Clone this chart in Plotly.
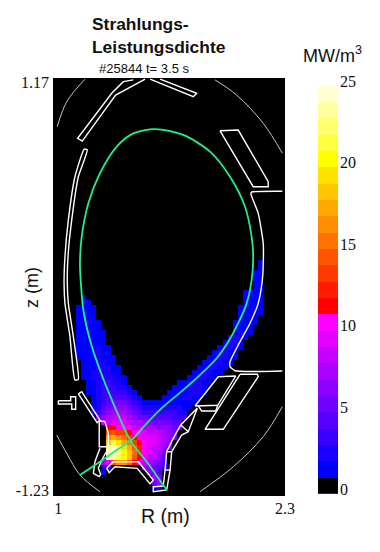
import plotly.graph_objects as go

# Farbskala: ein Band pro MW/m3, von 0 bis 24
band_levels = list(range(25))
band_colors = [
    "#000000", "#0000ff", "#1c00ff", "#3900ff", "#5500ff", "#7100ff", "#8e00ff", "#aa00ff", "#c600ff",
    "#e300ff", "#ff00ff", "#ff0000", "#ff1c00", "#ff3900", "#ff5500", "#ff7100", "#ff8e00", "#ffaa00",
    "#ffc600", "#ffe300", "#ffff00", "#ffff40", "#ffff70", "#ffffa0", "#ffffd0",
]
bar_ticks = [0, 5, 10, 15, 20, 25]

# Gitter der Rekonstruktion (Zellmitten in m)
r_first, r_step, n_cols = 1.1429, 0.0283, 37
z_first, z_step = 0.1107, -0.0287

# Zeilen von oben nach unten: (erste Spalte, Werte) je Abschnitt
emission_rows = [
    [(36, [1])],
    [(36, [1])],
    [(35, [1, 1])],
    [(35, [1, 1])],
    [(35, [1, 1])],
    [(35, [1, 1])],
    [(33, [1, 1, 1, 1])],
    [(1, [1]), (33, [1, 1, 1, 1])],
    [(1, [1, 1]), (33, [1, 1, 1, 1])],
    [(0, [1, 1, 1, 1]), (32, [1, 1, 1, 1, 1])],
    [(0, [1, 1, 1, 1]), (32, [1, 1, 1, 1, 1])],
    [(0, [1, 1, 1, 1]), (32, [1, 1, 1, 1])],
    [(0, [1, 1, 1, 1, 1]), (31, [1, 1, 1, 1, 1])],
    [(0, [1, 1, 1, 1, 1]), (31, [1, 1, 1, 1])],
    [(0, [1, 1, 1, 1, 1, 1]), (31, [1, 2, 1, 1])],
    [(0, [1, 1, 1, 1, 1, 1]), (30, [1, 2, 2, 1])],
    [(0, [1, 1, 1, 1, 1, 1]), (29, [1, 2, 2, 1])],
    [(0, [1, 1, 1, 1, 2, 1, 1]), (28, [1, 2, 2, 1, 1])],
    [(0, [1, 1, 1, 2, 2, 1, 1]), (27, [1, 2, 2, 1, 1])],
    [(0, [1, 1, 1, 2, 2, 1, 1, 1]), (26, [1, 1, 2, 2, 1, 1])],
    [(1, [1, 1, 1, 2, 2, 1, 1]), (25, [1, 1, 2, 2, 1, 1])],
    [(1, [1, 1, 1, 2, 2, 2, 1, 1]), (24, [1, 1, 2, 2, 1, 1])],
    [(1, [1, 1, 2, 2, 2, 2, 1, 1]), (23, [1, 1, 2, 2, 1, 1])],
    [(1, [1, 1, 2, 2, 3, 2, 2, 1, 1]), (22, [1, 1, 2, 2, 1, 1])],
    [(2, [1, 1, 2, 2, 3, 2, 2, 1]), (20, [1, 1, 1, 2, 2, 1, 1])],
    [(2, [1, 1, 2, 3, 3, 3, 2, 2, 1]), (19, [1, 1, 1, 2, 2, 2, 1])],
    [(2, [1, 1, 2, 3, 3, 3, 3, 3, 2, 1]), (18, [1, 1, 1, 1, 2, 2, 2, 1])],
    [(3, [1, 2, 3, 3, 4, 4, 4, 3, 2, 1]), (17, [1, 1, 1, 1, 2, 2, 1, 1])],
    [(3, [1, 2, 3, 4, 5, 5, 5, 4, 3, 2, 1, 1, 1, 1, 1, 1, 1, 1, 1, 1, 1])],
    [(3, [1, 2, 4, 5, 6, 6, 6, 5, 4, 3, 2, 2, 2, 2, 2, 2, 2, 2, 1, 1])],
    [(3, [2, 3, 5, 6, 7, 7, 7, 6, 5, 4, 3, 3, 3, 3, 3, 3, 3, 2, 2])],
    [(4, [5, 6, 7, 8, 8, 8, 7, 6, 5, 5, 4, 4, 4, 4, 4, 3, 3, 3])],
    [(5, [8, 8, 9, 9, 9, 8, 7, 7, 6, 6, 5, 5, 5, 5, 4, 4])],
    [(6, [11, 11, 10, 10, 10, 8, 8, 7, 7, 7, 6, 6, 6, 5, 4])],
    [(6, [13, 14, 13, 13, 11, 10, 10, 9, 8, 8, 8, 7, 6, 5])],
    [(6, [16, 17, 16, 15, 13, 11, 10, 9, 9, 9, 8, 7, 6, 5])],
    [(6, [18, 21, 19, 17, 15, 13, 11, 10, 9, 9, 8, 7, 6])],
    [(6, [22, 24, 22, 19, 17, 14, 12, 10, 9, 8, 8, 6, 5])],
    [(6, [24, 24, 22, 20, 18, 15, 12, 10, 9, 8, 7, 5])],
    [(6, [23, 23, 21, 20, 18, 14, 11, 9, 8, 8, 6, 4])],
    [(5, [7, 9, 14, 16, 16, 14, 11, 9, 8, 7, 6, 5, 4])],
    [(5, [2, 3]), (13, [6, 6, 5, 4, 3])],
    [(5, [1]), (14, [6, 5, 4])],
    [(15, [7, 5])],
    [(15, [5, 7])],
    [(15, [1, 2])],
]

# Separatrix (R, z in m)
sep_r = [1.151, 1.263, 1.357, 1.441, 1.525, 1.618, 1.730, 1.824, 1.917, 1.982, 2.038, 2.085, 2.113, 2.122, 2.113, 2.076,
         1.992, 1.880, 1.730, 1.572, 1.450, 1.357, 1.263, 1.198, 1.161, 1.151, 1.155, 1.170, 1.207, 1.263, 1.338, 1.422,
         1.450, 1.525, 1.637]
sep_z = [-1.109, -1.033, -0.966, -0.908, -0.813, -0.717, -0.621, -0.535, -0.439, -0.344, -0.238, -0.124, 0.010, 0.144,
         0.259, 0.431, 0.603, 0.747, 0.843, 0.877, 0.852, 0.776, 0.623, 0.451, 0.259, 0.106, 0.010, -0.162, -0.334,
         -0.507, -0.698, -0.889, -0.937, -1.033, -1.195]

# Wandkomponenten (R, z in m)
walls = [
    ([1.516, 1.351, 1.164, 1.138, 1.329, 1.394, 1.450], [1.164, 1.072, 0.808, 0.824, 1.082, 1.149, 1.159]),
    ([1.544, 1.786, 1.805, 1.600], [1.163, 1.063, 1.082, 1.163]),
    ([1.936, 2.038, 2.206, 2.206, 2.122, 1.936], [0.867, 0.871, 0.575, 0.546, 0.546, 0.867]),
    ([1.030, 1.099, 1.099, 1.127, 1.127, 1.105, 1.105, 1.030, 1.030], [-0.683, -0.683, -0.660, -0.660, -0.732, -0.732, -0.702, -0.702, -0.683]),
    ([1.142, 1.161, 1.263, 1.247, 1.142], [-0.644, -0.631, -0.794, -0.809, -0.644]),
    ([1.259, 1.291, 1.310, 1.310, 1.259, 1.259], [-0.798, -0.803, -0.870, -0.947, -0.947, -0.798]),
    ([1.263, 1.235, 1.226, 1.259, 1.267, 1.254, 1.273, 1.310], [-0.956, -1.033, -1.100, -1.119, -1.105, -1.071, -1.023, -0.956]),
    ([1.301, 1.338, 1.478, 1.562, 1.544, 1.472, 1.347, 1.315, 1.301], [-1.071, -1.033, -1.033, -1.138, -1.161, -1.071, -1.062, -1.096, -1.071]),
    ([1.809, 1.716, 1.674, 1.637, 1.628, 1.618, 1.562, 1.562, 1.637, 1.656, 1.665, 1.721, 1.758, 1.809],
     [-0.725, -0.822, -0.899, -0.976, -1.081, -1.173, -1.177, -1.205, -1.195, -1.081, -0.976, -0.880, -0.861, -0.725]),
    ([1.628, 1.656, None, 1.637, 1.665, None, 1.716, 1.758], [-1.081, -1.081, None, -0.976, -0.976, None, -0.822, -0.861]),
    ([1.796, 1.926, 2.024, 1.923, 1.796, None, 1.814, 1.833, 1.912, 1.923], [-0.713, -0.545, -0.541, -0.709, -0.713, None, -0.713, -0.742, -0.742, -0.709]),
    ([2.048, 2.145, 2.150, 1.954, 1.852, 2.048], [-0.531, -0.531, -0.545, -0.847, -0.847, -0.531]),
]

# gebogene Wandteile: Aussenwand rechts und Hitzeschild links
curved_walls = [
    ([2.285, 2.113, 2.109, 2.150, 2.178, 2.177, 2.173, 2.150, 2.104, 2.038, 1.992, 1.992, 2.020, 2.285],
     [0.520, 0.515, 0.504, 0.393, 0.221, 0.068, 0.010, -0.124, -0.238, -0.363, -0.459, -0.487, -0.511, -0.512]),
    ([1.175, 1.123, 1.086, 1.067, 1.062, 1.067, 1.095, 1.123, 1.142, 1.114, 1.086, 1.080, 1.084, 1.105, 1.142, 1.192, 1.175],
     [0.761, 0.603, 0.355, 0.144, -0.009, -0.124, -0.315, -0.564, -0.560, -0.315, -0.124, -0.009, 0.144, 0.355, 0.603, 0.757, 0.761]),
]

# Aeussere Kontur, duenne Boegen
outer_arcs = [
    ([1.024, 1.077, 1.179], [0.890, 1.034, 1.163]),
    ([1.908, 2.029, 2.178, 2.285], [1.159, 1.072, 0.910, 0.738]),
    ([1.021, 1.077, 1.151, 1.263], [-0.880, -0.985, -1.109, -1.205]),
    ([1.824, 2.010, 2.178, 2.285], [-1.205, -1.062, -0.889, -0.717]),
]

# Zeilen zu einer Matrix aufbauen, 0 ist das schwarze Band
z_matrix = []
for row in emission_rows:
    line = [0] * n_cols
    for start, vals in row:
        line[start:start + len(vals)] = vals
    z_matrix.append(line)

r_centers = [r_first + i * r_step for i in range(n_cols)]
z_centers = [z_first + j * z_step for j in range(len(emission_rows))]

scale = []
for i, c in enumerate(band_colors):
    scale.append([i / 25, c])
    scale.append([(i + 1) / 25, c])

fig = go.Figure()

fig.add_trace(go.Heatmap(x=r_centers, y=z_centers, z=z_matrix, colorscale=scale, zmin=-0.5, zmax=24.5, showscale=False))

for rr, zz in outer_arcs:
    fig.add_trace(go.Scatter(x=rr, y=zz, mode="lines", line=dict(color="#c4c4c4", width=1, shape="spline"), showlegend=False))
for rr, zz in walls:
    fig.add_trace(go.Scatter(x=rr, y=zz, mode="lines", line=dict(color="white", width=1.4), showlegend=False))
for rr, zz in curved_walls:
    fig.add_trace(go.Scatter(x=rr, y=zz, mode="lines", line=dict(color="white", width=1.4, shape="spline", smoothing=0.5), showlegend=False))

fig.add_trace(go.Scatter(x=sep_r, y=sep_z, mode="lines", line=dict(color="#22ee88", width=1.8, shape="spline", smoothing=0.8), showlegend=False))

# Farbbalken als eigene Achse, damit die Beschriftung wie im Original leicht versetzt sitzt
fig.add_trace(go.Heatmap(x=[0], y0=0.2, dy=1, z=[[v] for v in band_levels], colorscale=scale, zmin=-0.5, zmax=24.5,
                         showscale=False, xaxis="x2", yaxis="y2"))

# schwarzer Hintergrund nur fuer das Hauptfeld
fig.add_shape(type="rect", xref="x domain", yref="y domain", x0=0, x1=1, y0=0, y1=1, fillcolor="black", line_width=0, layer="below")

serif = dict(family="Liberation Serif", size=16, color="#111111")
sans = "Liberation Sans"

# die Seite hat 8 px Rand, daher 372 x 544
W, H = 372, 544
main_y = [1 - 488 / H, 1 - 70 / H]

fig.update_layout(
    width=W, height=H,
    margin=dict(l=0, r=0, t=0, b=0),
    paper_bgcolor="white",
    plot_bgcolor="white",
    showlegend=False,
    title=dict(text="<b>Strahlungs-<br>Leistungsdichte</b>", x=84 / W, xanchor="left", y=1 - 22 / H, yanchor="top",
               font=dict(family=sans, size=17.4, color="#111111")),
    xaxis=dict(domain=[45 / W, 277 / W], range=[1, 2.3], tickvals=[1.03, 2.3], ticktext=["1", "2.3"], tickfont=serif,
               ticks="", showgrid=False, zeroline=False, ticklabelstandoff=1, automargin=False),
    yaxis=dict(domain=main_y, range=[-1.23, 1.17], tickvals=[-1.195, 1.147], ticktext=["-1.23", "1.17"],
               tickfont=serif, ticks="", showgrid=False, zeroline=False, ticklabelstandoff=3, automargin=False),
    xaxis2=dict(domain=[310 / W, 330 / W], visible=False, anchor="y2", automargin=False),
    yaxis2=dict(domain=main_y, range=[-0.43, 25.18], tickvals=bar_ticks, side="right", anchor="x2",
                tickfont=serif, ticks="", showgrid=False, zeroline=False, ticklabelstandoff=1, automargin=False),
    annotations=[
        dict(text="#25844 t= 3.5 s", x=136 / W, y=1 - 60 / H, xref="paper", yref="paper", showarrow=False,
             xanchor="center", yanchor="middle", font=dict(family=sans, size=13, color="#111111")),
        dict(text="MW/m<sup>3</sup>", x=324 / W, y=1 - 46 / H, xref="paper", yref="paper", showarrow=False,
             xanchor="center", yanchor="middle", font=dict(family=sans, size=18, color="#111111")),
        dict(text="R (m)", x=157 / W, y=1 - 508 / H, xref="paper", yref="paper", showarrow=False,
             xanchor="center", yanchor="middle", font=dict(family=sans, size=19.5, color="#111111")),
        dict(text="z (m)", x=24 / W, y=1 - 280 / H, xref="paper", yref="paper", showarrow=False, textangle=-90,
             xanchor="center", yanchor="middle", font=dict(family=sans, size=18, color="#111111")),
    ],
)

fig.write_html("out.html")
